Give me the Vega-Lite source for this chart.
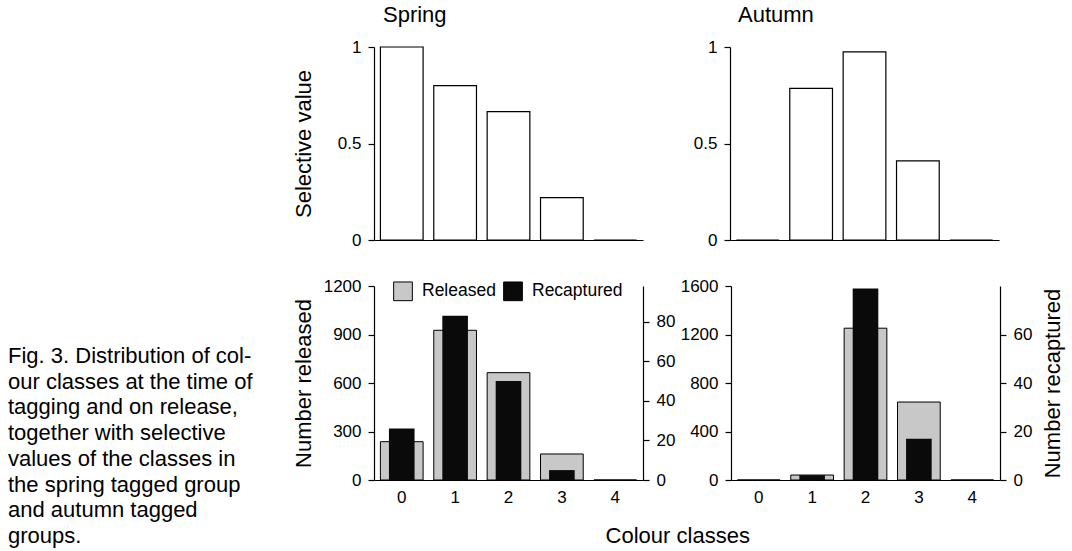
{
  "$schema": "https://vega.github.io/schema/vega-lite/v6.json",
  "background": "white",
  "padding": {"left": 8, "top": 4, "right": 2, "bottom": 2},
  "datasets": {
    "caption": [
      {"line": 1, "text": "Fig. 3. Distribution of col-"},
      {"line": 2, "text": "our classes at the time of"},
      {"line": 3, "text": "tagging and on release,"},
      {"line": 4, "text": "together with selective"},
      {"line": 5, "text": "values of the classes in"},
      {"line": 6, "text": "the spring tagged group"},
      {"line": 7, "text": "and autumn tagged"},
      {"line": 8, "text": "groups."}
    ],
    "selective": [
      {"season": "Spring", "cls": 0, "value": 1.0},
      {"season": "Spring", "cls": 1, "value": 0.8},
      {"season": "Spring", "cls": 2, "value": 0.665},
      {"season": "Spring", "cls": 3, "value": 0.22},
      {"season": "Spring", "cls": 4, "value": 0},
      {"season": "Autumn", "cls": 0, "value": 0},
      {"season": "Autumn", "cls": 1, "value": 0.786},
      {"season": "Autumn", "cls": 2, "value": 0.975},
      {"season": "Autumn", "cls": 3, "value": 0.41},
      {"season": "Autumn", "cls": 4, "value": 0}
    ],
    "counts": [
      {"season": "Spring", "cls": 0, "series": "Released", "value": 237},
      {"season": "Spring", "cls": 1, "series": "Released", "value": 926},
      {"season": "Spring", "cls": 2, "series": "Released", "value": 664},
      {"season": "Spring", "cls": 3, "series": "Released", "value": 161},
      {"season": "Spring", "cls": 4, "series": "Released", "value": 0},
      {"season": "Spring", "cls": 0, "series": "Recaptured", "value": 26},
      {"season": "Spring", "cls": 1, "series": "Recaptured", "value": 83},
      {"season": "Spring", "cls": 2, "series": "Recaptured", "value": 50},
      {"season": "Spring", "cls": 3, "series": "Recaptured", "value": 5},
      {"season": "Spring", "cls": 4, "series": "Recaptured", "value": 0},
      {"season": "Autumn", "cls": 0, "series": "Released", "value": 0},
      {"season": "Autumn", "cls": 1, "series": "Released", "value": 41},
      {"season": "Autumn", "cls": 2, "series": "Released", "value": 1252},
      {"season": "Autumn", "cls": 3, "series": "Released", "value": 643},
      {"season": "Autumn", "cls": 4, "series": "Released", "value": 0},
      {"season": "Autumn", "cls": 0, "series": "Recaptured", "value": 0},
      {"season": "Autumn", "cls": 1, "series": "Recaptured", "value": 2},
      {"season": "Autumn", "cls": 2, "series": "Recaptured", "value": 79},
      {"season": "Autumn", "cls": 3, "series": "Recaptured", "value": 17},
      {"season": "Autumn", "cls": 4, "series": "Recaptured", "value": 0}
    ]
  },
  "config": {
    "font": "Liberation Sans",
    "view": {"stroke": null},
    "axis": {
      "domainColor": "black", "tickColor": "black", "labelColor": "black", "titleColor": "black",
      "labelFontSize": 17, "titleFontSize": 22, "titleFontWeight": "normal",
      "grid": false, "tickSize": 6, "labelPadding": 7, "domainWidth": 1.2, "tickWidth": 1.2
    },
    "title": {"font": "Liberation Sans", "fontWeight": "normal", "color": "black", "fontSize": 22},
    "text": {"color": "black"}
  },
  "spacing": 34,
  "hconcat": [
    {
      "width": 250,
      "height": 496,
      "data": {"name": "caption"},
      "mark": {"type": "text", "align": "left", "baseline": "alphabetic", "fontSize": 22, "font": "Liberation Sans", "color": "black"},
      "encoding": {
        "x": {"datum": 0, "type": "quantitative", "scale": {"domain": [0, 1]}, "axis": null},
        "y": {"field": "line", "type": "quantitative", "scale": {"domain": [-11.29, 8], "reverse": true}, "axis": null},
        "text": {"field": "text"}
      }
    },
    {
      "spacing": 29,
      "vconcat": [
        {
          "spacing": 50,
          "hconcat": [
            {
              "width": 269, "height": 193,
              "title": {"text": "Spring", "anchor": "start", "frame": "group", "dx": 9, "offset": -6, "baseline": "alphabetic"},
              "data": {"name": "selective"},
              "transform": [{"filter": "datum.season === 'Spring'"}],
              "mark": {"type": "bar", "fill": "white", "stroke": "black", "strokeWidth": 1.2},
              "encoding": {
                "x": {"field": "cls", "type": "ordinal", "scale": {"domain": [0, 1, 2, 3, 4], "paddingInner": 0.2, "paddingOuter": 0.12}, "axis": {"labels": false, "ticks": false, "title": null}},
                "y": {"field": "value", "type": "quantitative", "scale": {"domain": [0, 1]}, "axis": {"values": [0, 0.5, 1], "format": "~g", "title": "Selective value", "minExtent": 51, "maxExtent": 51, "titlePadding": 8}}
              }
            },
            {
              "width": 269, "height": 193,
              "title": {"text": "Autumn", "anchor": "start", "frame": "group", "dx": 8, "offset": -6, "baseline": "alphabetic"},
              "data": {"name": "selective"},
              "transform": [{"filter": "datum.season === 'Autumn'"}],
              "mark": {"type": "bar", "fill": "white", "stroke": "black", "strokeWidth": 1.2},
              "encoding": {
                "x": {"field": "cls", "type": "ordinal", "scale": {"domain": [0, 1, 2, 3, 4], "paddingInner": 0.2, "paddingOuter": 0.12}, "axis": {"labels": false, "ticks": false, "title": null}},
                "y": {"field": "value", "type": "quantitative", "scale": {"domain": [0, 1]}, "axis": {"values": [0, 0.5, 1], "format": "~g", "title": null}}
              }
            }
          ]
        },
        {
          "spacing": 5,
          "title": {"text": "Colour classes", "orient": "bottom", "anchor": "middle", "offset": 38, "baseline": "alphabetic"},
          "resolve": {"scale": {"color": "independent"}, "legend": {"color": "independent"}},
          "hconcat": [
            {
              "width": 269, "height": 194,
              "data": {"name": "counts"},
              "transform": [{"filter": "datum.season === 'Spring'"}],
              "encoding": {
                "x": {"field": "cls", "type": "ordinal", "scale": {"domain": [0, 1, 2, 3, 4], "paddingInner": 0.2, "paddingOuter": 0.12}, "axis": {"ticks": false, "tickSize": 0, "labelPadding": 9, "labelAngle": 0, "title": null}}
              },
              "layer": [
                {
                  "transform": [{"filter": "datum.series === 'Released'"}],
                  "mark": {"type": "bar", "stroke": "black", "strokeWidth": 1},
                  "encoding": {
                    "y": {"field": "value", "type": "quantitative", "scale": {"domain": [0, 1200]}, "axis": {"values": [0, 300, 600, 900, 1200], "format": "d", "title": "Number released", "minExtent": 51, "maxExtent": 51, "titlePadding": 8}},
                    "color": {"field": "series", "type": "nominal", "scale": {"domain": ["Released", "Recaptured"], "range": ["#c8c8c8", "#0a0a0a"]},
                      "legend": {"title": null, "orient": "none", "legendX": 19, "legendY": -5, "direction": "horizontal", "symbolType": "square", "symbolSize": 350, "symbolStrokeColor": "black", "symbolStrokeWidth": 1, "labelFontSize": 17.5, "labelColor": "black", "labelOffset": 9, "columnPadding": 5, "padding": 0}}
                  }
                },
                {
                  "transform": [{"filter": "datum.series === 'Recaptured'"}],
                  "mark": {"type": "bar", "width": {"band": 0.6}},
                  "encoding": {
                    "y": {"field": "value", "type": "quantitative", "scale": {"domain": [0, 98], "nice": false}, "axis": {"orient": "right", "values": [0, 20, 40, 60, 80], "format": "d", "title": null}},
                    "color": {"field": "series", "type": "nominal", "scale": {"domain": ["Released", "Recaptured"], "range": ["#c8c8c8", "#0a0a0a"]},
                      "legend": {"title": null, "orient": "none", "legendX": 19, "legendY": -5, "direction": "horizontal", "symbolType": "square", "symbolSize": 350, "symbolStrokeColor": "black", "symbolStrokeWidth": 1, "labelFontSize": 17.5, "labelColor": "black", "labelOffset": 9, "columnPadding": 5, "padding": 0}}
                  }
                }
              ],
              "resolve": {"scale": {"y": "independent"}}
            },
            {
              "width": 269, "height": 194,
              "data": {"name": "counts"},
              "transform": [{"filter": "datum.season === 'Autumn'"}],
              "encoding": {
                "x": {"field": "cls", "type": "ordinal", "scale": {"domain": [0, 1, 2, 3, 4], "paddingInner": 0.2, "paddingOuter": 0.12}, "axis": {"ticks": false, "tickSize": 0, "labelPadding": 9, "labelAngle": 0, "title": null}}
              },
              "layer": [
                {
                  "transform": [{"filter": "datum.series === 'Released'"}],
                  "mark": {"type": "bar", "stroke": "black", "strokeWidth": 1},
                  "encoding": {
                    "y": {"field": "value", "type": "quantitative", "scale": {"domain": [0, 1600]}, "axis": {"values": [0, 400, 800, 1200, 1600], "format": "d", "title": null}},
                    "color": {"field": "series", "type": "nominal", "scale": {"domain": ["Released", "Recaptured"], "range": ["#c8c8c8", "#0a0a0a"]}, "legend": null}
                  }
                },
                {
                  "transform": [{"filter": "datum.series === 'Recaptured'"}],
                  "mark": {"type": "bar", "width": {"band": 0.6}},
                  "encoding": {
                    "y": {"field": "value", "type": "quantitative", "scale": {"domain": [0, 80], "nice": false}, "axis": {"orient": "right", "values": [0, 20, 40, 60], "format": "d", "title": "Number recaptured", "titleAngle": 270, "titleBaseline": "top", "titlePadding": 10.5, "minExtent": 32, "maxExtent": 32}},
                    "color": {"field": "series", "type": "nominal", "scale": {"domain": ["Released", "Recaptured"], "range": ["#c8c8c8", "#0a0a0a"]}, "legend": null}
                  }
                }
              ],
              "resolve": {"scale": {"y": "independent"}}
            }
          ]
        }
      ]
    }
  ]
}
